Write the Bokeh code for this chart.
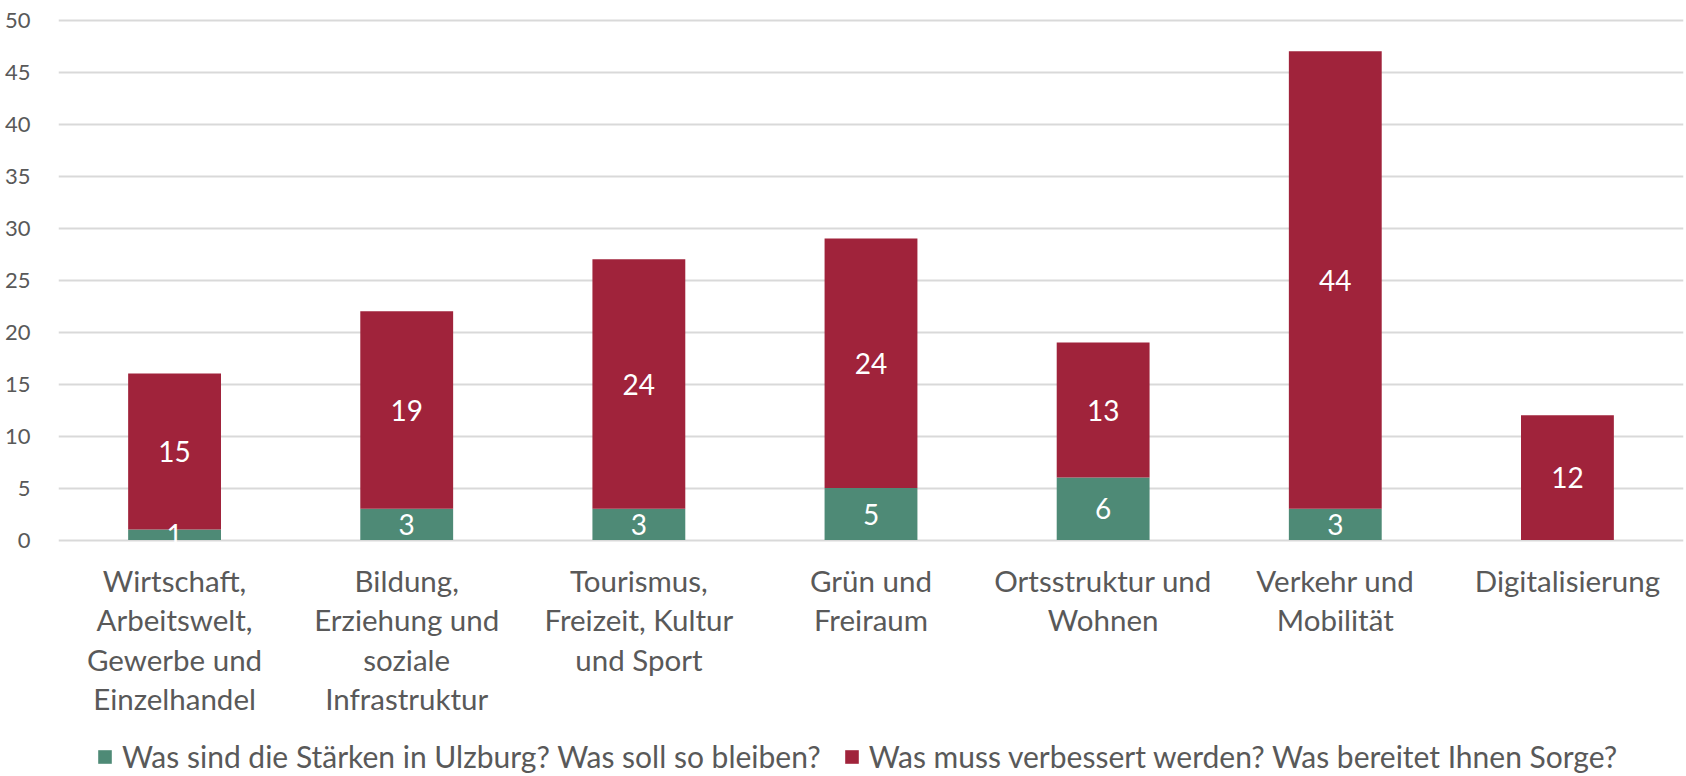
from bokeh.plotting import figure
from bokeh.models import ColumnDataSource, LabelSet, Legend, LegendItem, FixedTicker
from bokeh.core.properties import value
from bokeh.embed import file_html
from bokeh.resources import INLINE

categories = [
    "Wirtschaft,\nArbeitswelt,\nGewerbe und\nEinzelhandel",
    "Bildung,\nErziehung und\nsoziale\nInfrastruktur",
    "Tourismus,\nFreizeit, Kultur\nund Sport",
    "Grün und\nFreiraum",
    "Ortsstruktur und\nWohnen",
    "Verkehr und\nMobilität",
    "Digitalisierung",
]
staerken = [1, 3, 3, 5, 6, 3, 0]
sorgen = [15, 19, 24, 24, 13, 44, 12]
series_names = [
    "Was sind die Stärken in Ulzburg? Was soll so bleiben?",
    "Was muss verbessert werden? Was bereitet Ihnen Sorge?",
]
y_ticks = [0, 5, 10, 15, 20, 25, 30, 35, 40, 45, 50]

GREEN = "#4E8A76"
RED = "#A0233B"
TXT = "#595959"
FONT = "Lato"

# layout (pixels)
WIDTH, HEIGHT = 1686, 776
TOP = 16               # frame top
Y50_PX = 19.5          # where the 50 line sits
ZERO_PX = 539.5        # where the zero line sits
px_per_unit = (ZERO_PX - Y50_PX) / 50.0
y_max = 50 + (Y50_PX - TOP) / px_per_unit
y_min = -(HEIGHT - ZERO_PX) / px_per_unit

keys = ["s", "m"]
src = ColumnDataSource(dict(cat=categories, s=staerken, m=sorgen))

p = figure(x_range=categories, y_range=(y_min, y_max),
           width=WIDTH, height=HEIGHT,
           output_backend="svg", toolbar_location=None,
           min_border_left=58, min_border_right=3, min_border_top=TOP,
           min_border_bottom=0, outline_line_color=None)

r = p.vbar_stack(keys, x="cat", width=0.4, color=[GREEN, RED], source=src,
                 line_color=None)

# value labels
lab_x, lab_y, lab_t = [], [], []
for c, a, b in zip(categories, staerken, sorgen):
    if a > 0:
        lab_x.append(c); lab_y.append(a / 2); lab_t.append(str(a))
    if b > 0:
        lab_x.append(c); lab_y.append(a + b / 2); lab_t.append(str(b))
lsrc = ColumnDataSource(dict(x=lab_x, y=lab_y, t=lab_t))
labels = LabelSet(x="x", y="y", text="t", source=lsrc, text_color="white",
                  text_align="center", text_baseline="middle",
                  text_font=value(FONT), text_font_size="28px")
p.add_layout(labels)

# category labels (multi-line, below the zero line)
cx, cy, ct, co = [], [], [], []
for c in categories:
    for i, line in enumerate(c.split("\n")):
        cx.append(c); cy.append(0); ct.append(line); co.append(-(40.5 + 39.3 * i))
csrc = ColumnDataSource(dict(x=cx, y=cy, t=ct, o=co))
cat_labels = LabelSet(x="x", y="y", text="t", y_offset="o", source=csrc,
                      text_color=TXT, text_align="center", text_baseline="middle",
                      text_font=value(FONT), text_font_size="29.5px")
p.add_layout(cat_labels)

p.yaxis.ticker = FixedTicker(ticks=y_ticks)
p.yaxis.axis_line_color = None
p.yaxis.major_tick_line_color = None
p.yaxis.minor_tick_line_color = None
p.yaxis.major_label_text_font = FONT
p.yaxis.major_label_text_font_size = "22px"
p.yaxis.major_label_text_color = TXT
p.yaxis.major_label_standoff = 22

p.xaxis.visible = False

p.xgrid.grid_line_color = None
p.ygrid.grid_line_color = "#D9D9D9"
p.ygrid.grid_line_width = 2

legend = Legend(items=[LegendItem(label=series_names[0], renderers=[r[0]]),
                       LegendItem(label=series_names[1], renderers=[r[1]])],
                orientation="horizontal", location=(38, 2),
                label_text_font=FONT, label_text_font_size="30px",
                label_text_color=TXT, glyph_width=17, glyph_height=17,
                label_height=20, spacing=22, label_standoff=9, padding=0,
                margin=0, border_line_color=None, background_fill_alpha=0)
p.add_layout(legend, "center")

open("out.html", "w").write(file_html(p, INLINE))
